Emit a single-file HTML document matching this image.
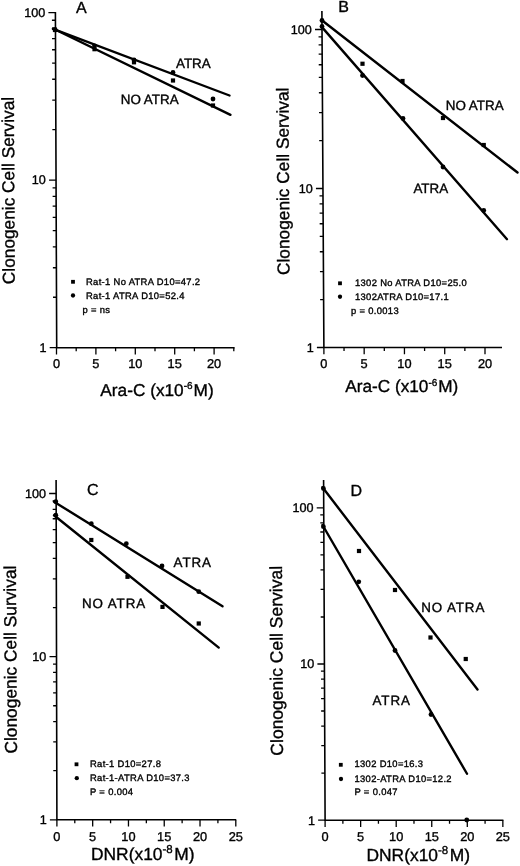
<!DOCTYPE html>
<html lang="en"><head><meta charset="utf-8"><title>Clonogenic Cell Survival</title>
<style>
html,body{margin:0;padding:0;background:#fff;}
body{width:520px;height:866px;overflow:hidden;}
svg{display:block;}
svg text{font-family:"Liberation Sans", Arial, Helvetica, sans-serif;fill:#000;stroke:#000;stroke-width:0.35px;text-rendering:geometricPrecision;}
</style></head><body>
<svg width="520" height="866" viewBox="0 0 520 866">
<rect width="520" height="866" fill="#fff"/>
<g id="panelA">
<path d="M55.4 12L56.7 347.7H234.6" fill="none" stroke="#000" stroke-width="1.6" stroke-linejoin="miter"/>
<path d="M49.7 347.7H56.7M53 297.26H56.5M52.89 267.76H56.39M52.81 246.82H56.31M52.75 230.59H56.25M52.7 217.32H56.2M52.65 206.1H56.15M52.61 196.39H56.11M52.58 187.82H56.08M49.05 180.15H56.05M52.36 129.71H55.86M52.24 100.21H55.74M52.16 79.27H55.66M52.1 63.04H55.6M52.05 49.77H55.55M52 38.55H55.5M51.97 28.84H55.47M51.93 20.27H55.43M48.4 12.6H55.4" stroke="#000" stroke-width="1.3" fill="none"/>
<path d="M56.5 347.7V354.5M76.2 347.7V351.2M95.9 347.7V354.5M115.6 347.7V351.2M135.3 347.7V354.5M155 347.7V351.2M174.7 347.7V354.5M194.4 347.7V351.2M214.1 347.7V354.5M233.8 347.7V351.2" stroke="#000" stroke-width="1.3" fill="none"/>
<text x="45.2" y="16.9" text-anchor="end" font-size="12.6">100</text>
<text x="45.85" y="184.45" text-anchor="end" font-size="12.6">10</text>
<text x="46.5" y="352" text-anchor="end" font-size="12.6">1</text>
<text x="56.5" y="368.4" text-anchor="middle" font-size="12.8">0</text>
<text x="95.9" y="368.4" text-anchor="middle" font-size="12.8">5</text>
<text x="135.3" y="368.4" text-anchor="middle" font-size="12.8">10</text>
<text x="174.7" y="368.4" text-anchor="middle" font-size="12.8">15</text>
<text x="214.1" y="368.4" text-anchor="middle" font-size="12.8">20</text>
<line x1="53" y1="28.8" x2="229.5" y2="95.5" stroke="#000" stroke-width="2.4" stroke-linecap="round"/>
<line x1="53" y1="28.5" x2="230.5" y2="114.8" stroke="#000" stroke-width="2.4" stroke-linecap="round"/>
<circle cx="55" cy="29.5" r="2.4"/>
<circle cx="94.5" cy="45.8" r="2.4"/>
<circle cx="134" cy="60" r="2.4"/>
<circle cx="173" cy="72.5" r="2.4"/>
<circle cx="213" cy="99" r="2.4"/>
<rect x="52.9" y="27.9" width="4.2" height="4.2"/>
<rect x="92.4" y="47.1" width="4.2" height="4.2"/>
<rect x="131.9" y="60.2" width="4.2" height="4.2"/>
<rect x="170.9" y="78.4" width="4.2" height="4.2"/>
<rect x="210.9" y="103.4" width="4.2" height="4.2"/>
<text x="176" y="67.5" font-size="13.4">ATRA</text>
<text x="120.8" y="104.3" font-size="13.4">NO ATRA</text>
<text x="76" y="12.5" font-size="16">A</text>
<text transform="translate(14.3 190.5) rotate(-90.3)" text-anchor="middle" font-size="17.3">Clonogenic Cell Servival</text>
<text x="100.3" y="395.6" font-size="17.25">Ara-C (x10<tspan dy="-7" font-size="10">-6</tspan><tspan dy="7" dx="1.0">M)</tspan></text>
<rect x="71.1" y="279.9" width="3.8" height="3.8"/>
<text x="86" y="285" font-size="9.4" letter-spacing="0.34">Rat-1 No ATRA D10=47.2</text>
<circle cx="73" cy="295.5" r="2.15"/>
<text x="86" y="299" font-size="9.4" letter-spacing="0.34">Rat-1 ATRA D10=52.4</text>
<text x="82.5" y="312.5" font-size="9.4" letter-spacing="0.34">p = ns</text>
</g>
<g id="panelB">
<path d="M321.9 11L323.9 347.5H502" fill="none" stroke="#000" stroke-width="1.6" stroke-linejoin="miter"/>
<path d="M316.9 347.5H323.9M320.12 299.64H323.62M319.95 271.64H323.45M319.83 251.77H323.33M319.74 236.36H323.24M319.66 223.77H323.16M319.6 213.13H323.1M319.55 203.91H323.05M319.5 195.78H323M315.95 188.5H322.95M319.17 140.64H322.67M319 112.64H322.5M318.89 92.77H322.39M318.79 77.36H322.29M318.72 64.77H322.22M318.66 54.13H322.16M318.6 44.91H322.1M318.55 36.78H322.05M315.01 29.5H322.01" stroke="#000" stroke-width="1.3" fill="none"/>
<path d="M323.9 347.5V354.3M344.04 347.5V351M364.17 347.5V354.3M384.31 347.5V351M404.45 347.5V354.3M424.59 347.5V351M444.72 347.5V354.3M464.86 347.5V351M485 347.5V354.3" stroke="#000" stroke-width="1.3" fill="none"/>
<text x="311.81" y="33.8" text-anchor="end" font-size="12.6">100</text>
<text x="312.75" y="192.8" text-anchor="end" font-size="12.6">10</text>
<text x="313.7" y="351.8" text-anchor="end" font-size="12.6">1</text>
<text x="323.9" y="368.2" text-anchor="middle" font-size="12.8">0</text>
<text x="364.17" y="368.2" text-anchor="middle" font-size="12.8">5</text>
<text x="404.45" y="368.2" text-anchor="middle" font-size="12.8">10</text>
<text x="444.72" y="368.2" text-anchor="middle" font-size="12.8">15</text>
<text x="485" y="368.2" text-anchor="middle" font-size="12.8">20</text>
<line x1="321.5" y1="20" x2="517.5" y2="172.5" stroke="#000" stroke-width="2.4" stroke-linecap="round"/>
<line x1="321.5" y1="26.6" x2="507" y2="239.2" stroke="#000" stroke-width="2.4" stroke-linecap="round"/>
<circle cx="322" cy="20.5" r="2.4"/>
<circle cx="322" cy="26.5" r="2.4"/>
<circle cx="362.5" cy="75.5" r="2.4"/>
<circle cx="403" cy="118.5" r="2.4"/>
<circle cx="443" cy="167" r="2.4"/>
<circle cx="483.75" cy="210.5" r="2.4"/>
<rect x="360.4" y="61.65" width="4.2" height="4.2"/>
<rect x="400.4" y="78.9" width="4.2" height="4.2"/>
<rect x="440.9" y="115.9" width="4.2" height="4.2"/>
<rect x="481.65" y="142.9" width="4.2" height="4.2"/>
<text x="445.8" y="110" font-size="13.4">NO ATRA</text>
<text x="413.4" y="192.5" font-size="13.4">ATRA</text>
<text x="338.2" y="12.4" font-size="16">B</text>
<text transform="translate(289 181.3) rotate(-90.3)" text-anchor="middle" font-size="17.3">Clonogenic Cell Servival</text>
<text x="345.3" y="392" font-size="17.2">Ara-C (x10<tspan dy="-5.8" font-size="10">-6</tspan><tspan dy="5.8" dx="0.9">M)</tspan></text>
<rect x="338.1" y="281.4" width="3.8" height="3.8"/>
<text x="355" y="286" font-size="9.4" letter-spacing="0.34">1302 No ATRA D10=25.0</text>
<circle cx="340" cy="296.75" r="2.15"/>
<text x="355" y="300" font-size="9.4" letter-spacing="0.34">1302ATRA D10=17.1</text>
<text x="351" y="313.75" font-size="9.4" letter-spacing="0.34">p = 0.0013</text>
</g>
<g id="panelC">
<path d="M56.1 480L56.9 819.8H236.2" fill="none" stroke="#000" stroke-width="1.6" stroke-linejoin="miter"/>
<path d="M49.9 819.8H56.9M53.28 770.69H56.78M53.22 741.96H56.72M53.17 721.57H56.67M53.13 705.76H56.63M53.1 692.84H56.6M53.08 681.92H56.58M53.05 672.46H56.55M53.03 664.12H56.53M49.52 656.65H56.52M52.9 607.54H56.4M52.83 578.81H56.33M52.78 558.42H56.28M52.75 542.61H56.25M52.72 529.69H56.22M52.69 518.77H56.19M52.67 509.31H56.17M52.65 500.97H56.15M49.13 493.5H56.13" stroke="#000" stroke-width="1.3" fill="none"/>
<path d="M56.9 819.8V826.6M74.79 819.8V823.3M92.68 819.8V826.6M110.57 819.8V823.3M128.46 819.8V826.6M146.35 819.8V823.3M164.24 819.8V826.6M182.13 819.8V823.3M200.02 819.8V826.6M217.91 819.8V823.3M235.8 819.8V826.6" stroke="#000" stroke-width="1.3" fill="none"/>
<text x="45.93" y="497.8" text-anchor="end" font-size="12.6">100</text>
<text x="46.32" y="660.95" text-anchor="end" font-size="12.6">10</text>
<text x="46.7" y="824.1" text-anchor="end" font-size="12.6">1</text>
<text x="56.9" y="840.5" text-anchor="middle" font-size="12.8">0</text>
<text x="92.68" y="840.5" text-anchor="middle" font-size="12.8">5</text>
<text x="128.46" y="840.5" text-anchor="middle" font-size="12.8">10</text>
<text x="164.24" y="840.5" text-anchor="middle" font-size="12.8">15</text>
<text x="200.02" y="840.5" text-anchor="middle" font-size="12.8">20</text>
<text x="235.8" y="840.5" text-anchor="middle" font-size="12.8">25</text>
<line x1="54" y1="501.7" x2="222.5" y2="606.3" stroke="#000" stroke-width="2.4" stroke-linecap="round"/>
<line x1="54" y1="515.2" x2="218.75" y2="647.6" stroke="#000" stroke-width="2.4" stroke-linecap="round"/>
<circle cx="55.8" cy="501.7" r="2.4"/>
<circle cx="55.8" cy="515.2" r="2.4"/>
<circle cx="91.3" cy="523.7" r="2.4"/>
<circle cx="126.3" cy="543.7" r="2.4"/>
<circle cx="162" cy="565.9" r="2.4"/>
<circle cx="198.75" cy="591.7" r="2.4"/>
<rect x="89.2" y="537.9" width="4.2" height="4.2"/>
<rect x="125.4" y="574.7" width="4.2" height="4.2"/>
<rect x="160.4" y="604.8" width="4.2" height="4.2"/>
<rect x="196.65" y="621.4" width="4.2" height="4.2"/>
<text x="173.6" y="566.8" font-size="13.4" letter-spacing="0.9">ATRA</text>
<text x="82" y="607.6" font-size="13.4" letter-spacing="0.9">NO ATRA</text>
<text x="87" y="494.5" font-size="16">C</text>
<text transform="translate(16.4 659.6) rotate(-90.3)" text-anchor="middle" font-size="17.35">Clonogenic Cell Survival</text>
<text x="91" y="860.3" font-size="17.4">DNR(x10<tspan dy="-7" font-size="11.5">-8</tspan><tspan dy="7" dx="1.5">M)</tspan></text>
<rect x="74.6" y="762.4" width="3.8" height="3.8"/>
<text x="90" y="767" font-size="9.4" letter-spacing="0.34">Rat-1 D10=27.8</text>
<circle cx="76.8" cy="778.2" r="2.15"/>
<text x="90" y="781.4" font-size="9.4" letter-spacing="0.34">Rat-1-ATRA D10=37.3</text>
<text x="90" y="794.5" font-size="9.4" letter-spacing="0.34">P = 0.004</text>
</g>
<g id="panelD">
<path d="M323.6 480L325.1 820.2H503.4" fill="none" stroke="#000" stroke-width="1.6" stroke-linejoin="miter"/>
<path d="M318.1 820.2H325.1M321.39 773.18H324.89M321.27 745.67H324.77M321.19 726.16H324.69M321.12 711.02H324.62M321.06 698.65H324.56M321.02 688.2H324.52M320.98 679.14H324.48M320.94 671.15H324.44M317.41 664H324.41M320.7 616.98H324.2M320.58 589.47H324.08M320.5 569.96H324M320.43 554.82H323.93M320.38 542.45H323.88M320.33 532H323.83M320.29 522.94H323.79M320.25 514.95H323.75M316.72 507.8H323.72" stroke="#000" stroke-width="1.3" fill="none"/>
<path d="M325.1 820.2V827M342.88 820.2V823.7M360.65 820.2V827M378.43 820.2V823.7M396.2 820.2V827M413.98 820.2V823.7M431.75 820.2V827M449.53 820.2V823.7M467.3 820.2V827M485.08 820.2V823.7M502.85 820.2V827" stroke="#000" stroke-width="1.3" fill="none"/>
<text x="313.52" y="512.1" text-anchor="end" font-size="12.6">100</text>
<text x="314.21" y="668.3" text-anchor="end" font-size="12.6">10</text>
<text x="314.9" y="824.5" text-anchor="end" font-size="12.6">1</text>
<text x="325.1" y="840.9" text-anchor="middle" font-size="12.8">0</text>
<text x="360.65" y="840.9" text-anchor="middle" font-size="12.8">5</text>
<text x="396.2" y="840.9" text-anchor="middle" font-size="12.8">10</text>
<text x="431.75" y="840.9" text-anchor="middle" font-size="12.8">15</text>
<text x="467.3" y="840.9" text-anchor="middle" font-size="12.8">20</text>
<text x="502.85" y="840.9" text-anchor="middle" font-size="12.8">25</text>
<line x1="322.5" y1="487.3" x2="477.5" y2="689.5" stroke="#000" stroke-width="2.4" stroke-linecap="round"/>
<line x1="322.5" y1="525" x2="467" y2="773.75" stroke="#000" stroke-width="2.4" stroke-linecap="round"/>
<circle cx="323.4" cy="488.5" r="2.4"/>
<circle cx="323.4" cy="526.7" r="2.4"/>
<circle cx="358.75" cy="581.8" r="2.4"/>
<circle cx="395" cy="650.5" r="2.4"/>
<circle cx="431" cy="714.5" r="2.4"/>
<circle cx="466.75" cy="820" r="2.4"/>
<rect x="356.9" y="548.9" width="4.2" height="4.2"/>
<rect x="392.9" y="587.9" width="4.2" height="4.2"/>
<rect x="428.4" y="635.4" width="4.2" height="4.2"/>
<rect x="463.65" y="656.9" width="4.2" height="4.2"/>
<text x="421.2" y="611.5" font-size="13.4" letter-spacing="0.9">NO ATRA</text>
<text x="372.5" y="705.3" font-size="13.4" letter-spacing="0.9">ATRA</text>
<text x="350.5" y="496" font-size="16">D</text>
<text transform="translate(282.5 660.8) rotate(-90.3)" text-anchor="middle" font-size="17.5">Clonogenic Cell Servival</text>
<text x="366.5" y="860.8" font-size="17.4">DNR(x10<tspan dy="-7" font-size="11.5">-8</tspan><tspan dy="7" dx="1.5">M)</tspan></text>
<rect x="338.9" y="762.9" width="3.8" height="3.8"/>
<text x="354.5" y="767.2" font-size="9.4" letter-spacing="0.34">1302 D10=16.3</text>
<circle cx="341" cy="779" r="2.15"/>
<text x="354.5" y="782.2" font-size="9.4" letter-spacing="0.34">1302-ATRA D10=12.2</text>
<text x="354.5" y="794.8" font-size="9.4" letter-spacing="0.34">P = 0.047</text>
</g>
</svg>
</body></html>
